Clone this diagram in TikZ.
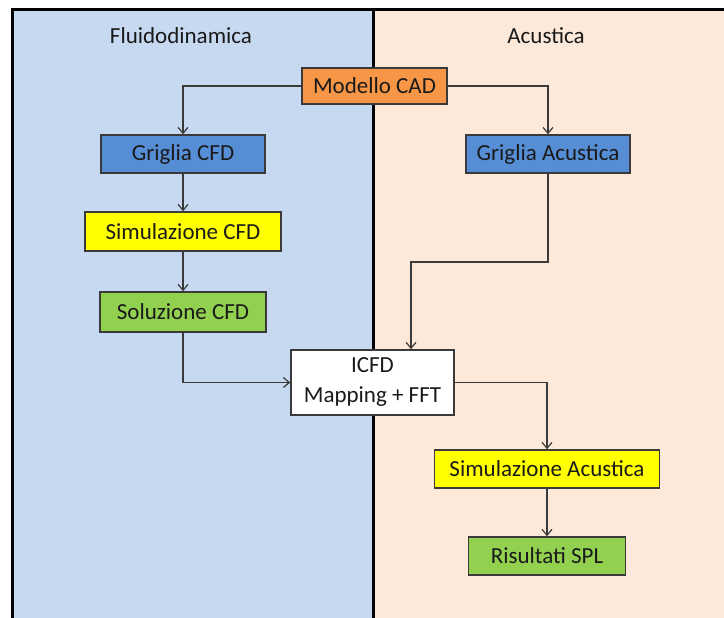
\documentclass[tikz,border=0pt]{standalone}
\usepackage{fontspec}
\setmainfont{Carlito}
\usetikzlibrary{arrows.meta}

\definecolor{fluidbg}{HTML}{C6D9F1}
\definecolor{acubg}{HTML}{FDE9D9}
\definecolor{cadfill}{HTML}{F79646}
\definecolor{gridfill}{HTML}{558ED5}
\definecolor{simfill}{HTML}{FFFF00}
\definecolor{resfill}{HTML}{92D050}
\definecolor{edgegray}{HTML}{3A3A3A}
\definecolor{inkc}{HTML}{1A1A1A}

\tikzset{
  stage/.style={draw=edgegray, line width=1.5pt, inner sep=0pt,
    text=inkc, font=\fontsize{23}{28}\selectfont, align=center},
  flow/.style={draw=edgegray, line width=1.3pt,
    -{Straight Barb[length=6pt,width=10pt,line width=1.2pt]}},
  paneltitle/.style={text=inkc, font=\fontsize{23}{28}\selectfont},
}

\begin{document}
\begin{tikzpicture}[x=1pt,y=-1pt]
\useasboundingbox (0,0) rectangle (724,618);

% two panels
\fill[fluidbg] (12,10) rectangle (373,630);
\fill[acubg] (373,10) rectangle (735,630);
\draw[line width=3pt] (12,630) -- (12,10) -- (735,10);
\draw[line width=3pt] (373,10) -- (373,630);

\node[paneltitle] (tfluid) at (181,36) {Fluidodinamica};
\node[paneltitle] (tacu) at (546,36) {Acustica};

% stages
\node[stage, fill=cadfill, minimum width=145pt, minimum height=36pt] (cad) at (374.5,86) {Modello CAD};
\node[stage, fill=gridfill, minimum width=164pt, minimum height=38pt] (gcfd) at (183,154) {Griglia CFD};
\node[stage, fill=gridfill, minimum width=164pt, minimum height=38pt] (gac) at (548,154) {Griglia Acustica};
\node[stage, fill=simfill, minimum width=196pt, minimum height=39pt] (scfd) at (183,231.5) {Simulazione CFD};
\node[stage, fill=resfill, minimum width=166pt, minimum height=40pt] (sol) at (183,312) {Soluzione CFD};
\node[stage, fill=white, minimum width=163pt, minimum height=65pt] (icfd) at (372.5,382.5) {ICFD\\[2pt]Mapping + FFT};
\node[stage, fill=simfill, minimum width=225pt, minimum height=38pt] (sac) at (547,469) {Simulazione Acustica};
\node[stage, fill=resfill, minimum width=157pt, minimum height=38pt] (spl) at (547,556) {Risultati SPL};

% connectors
\coordinate (jog) at (411,262);
\draw[flow] (cad.west) -| (gcfd.north);
\draw[flow] (cad.east) -| (gac.north);
\draw[flow] (gcfd) -- (scfd);
\draw[flow] (scfd) -- (sol);
\draw[flow] (sol.south) |- (icfd.west);
\draw[flow] (gac.south) |- (jog) -- (jog |- icfd.north);
\draw[flow] (icfd.east) -| (sac.north);
\draw[flow] (sac) -- (spl);
\end{tikzpicture}
\end{document}
